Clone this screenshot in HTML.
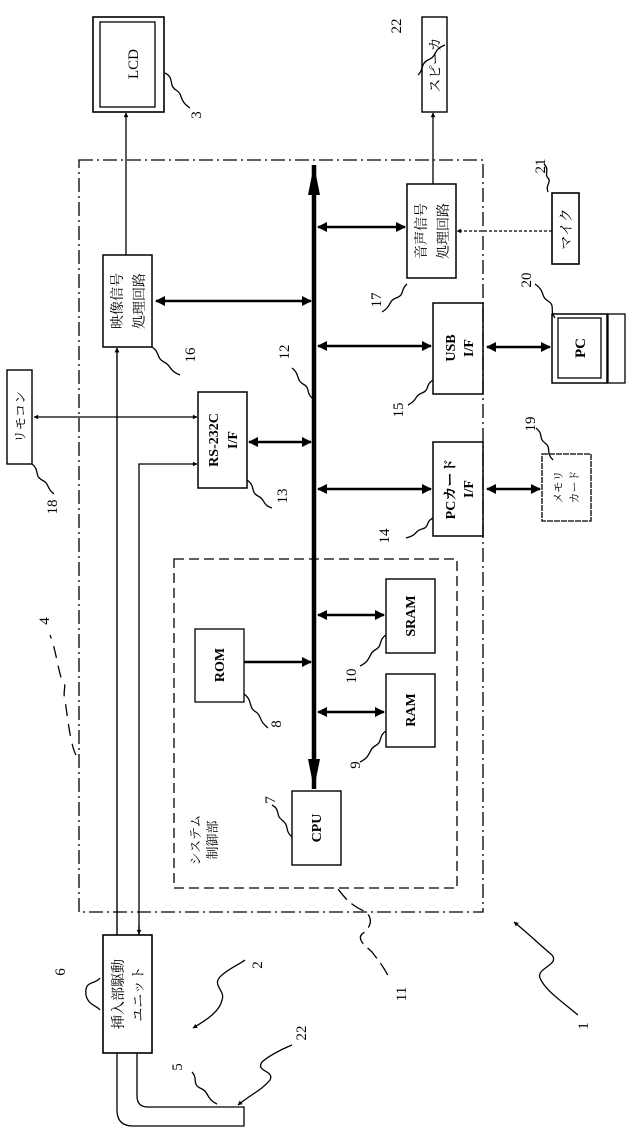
<!DOCTYPE html>
<html><head><meta charset="utf-8"><style>
html,body{margin:0;padding:0;background:#fff}
svg{display:block}
text{font-family:"Liberation Serif","Noto Serif CJK SC","Noto Sans CJK JP",serif;fill:#000}
</style></head><body>
<svg width="632" height="1128" viewBox="0 0 632 1128" xmlns="http://www.w3.org/2000/svg">
<defs>
<marker id="a" viewBox="0 0 10 10" refX="9" refY="5" markerWidth="5" markerHeight="4" orient="auto-start-reverse"><path d="M0,0L10,5L0,10z" fill="#000"/></marker>
<marker id="b" viewBox="0 0 10 10" refX="9" refY="5" markerWidth="4" markerHeight="3.5" orient="auto-start-reverse"><path d="M0,0L10,5L0,10z" fill="#000"/></marker>
<marker id="c" viewBox="0 0 30 12" refX="30" refY="6" markerUnits="userSpaceOnUse" markerWidth="30" markerHeight="12" orient="auto-start-reverse"><path d="M0,0L30,6L0,12z" fill="#000"/></marker>
</defs>
<g fill="none" stroke="#000" stroke-width="1.3">
<rect x="79" y="160" width="404" height="752" stroke-dasharray="14,4,2,4"/>
<rect x="174" y="559" width="283" height="329" stroke-dasharray="10,5"/>
<rect x="93" y="17" width="71" height="95" stroke-width="1.6"/>
<rect x="100" y="22" width="55" height="85"/>
<rect x="422" y="17" width="25" height="95" stroke-width="1.4"/>
<rect x="103" y="255" width="49" height="92" stroke-width="1.5"/>
<rect x="407" y="184" width="49" height="94" stroke-width="1.5"/>
<rect x="552" y="193" width="27" height="71" stroke-width="1.6"/>
<rect x="433" y="303" width="50" height="91" stroke-width="1.5"/>
<rect x="552" y="314" width="55" height="69" stroke-width="1.5"/>
<rect x="558" y="318" width="43" height="60"/>
<rect x="608" y="314" width="17" height="69"/>
<rect x="198" y="392" width="49" height="96" stroke-width="1.5"/>
<rect x="7" y="370" width="25" height="94" stroke-width="1.4"/>
<rect x="433" y="442" width="50" height="94" stroke-width="1.5"/>
<rect x="542" y="454" width="49" height="67" stroke-dasharray="6,1"/>
<rect x="195" y="629" width="49" height="73"/>
<rect x="386" y="579" width="49" height="74" stroke-width="1.4"/>
<rect x="386" y="674" width="49" height="73" stroke-width="1.4"/>
<rect x="292" y="791" width="49" height="74" stroke-width="1.4"/>
<rect x="103" y="935" width="49" height="118" stroke-width="1.6"/>
<line x1="314" y1="165" x2="314" y2="789" stroke-width="4.5" marker-start="url(#c)" marker-end="url(#c)"/>
<line x1="126" y1="255" x2="126" y2="113" marker-end="url(#b)"/>
<line x1="433" y1="184" x2="433" y2="113" marker-end="url(#b)"/>
<line x1="552" y1="231" x2="457" y2="231" stroke-dasharray="3,2" marker-end="url(#b)"/>
<line x1="34" y1="417" x2="197" y2="417" marker-start="url(#b)" marker-end="url(#b)"/>
<polyline points="139,935 139,464 197,464" marker-end="url(#b)"/>
<line x1="139" y1="925" x2="139" y2="934" marker-end="url(#b)"/>
<line x1="117" y1="935" x2="117" y2="348" stroke-width="1.4" marker-end="url(#b)"/>
<g stroke-width="2.5">
<line x1="156" y1="301" x2="311" y2="301" marker-start="url(#a)" marker-end="url(#a)"/>
<line x1="318" y1="227" x2="405" y2="227" marker-start="url(#a)" marker-end="url(#a)"/>
<line x1="318" y1="346" x2="431" y2="346" marker-start="url(#a)" marker-end="url(#a)"/>
<line x1="487" y1="347" x2="550" y2="347" marker-start="url(#a)" marker-end="url(#a)"/>
<line x1="249" y1="442" x2="311" y2="442" marker-start="url(#a)" marker-end="url(#a)"/>
<line x1="318" y1="489" x2="431" y2="489" marker-start="url(#a)" marker-end="url(#a)"/>
<line x1="487" y1="489" x2="540" y2="489" marker-start="url(#a)" marker-end="url(#a)"/>
<line x1="318" y1="615" x2="384" y2="615" marker-start="url(#a)" marker-end="url(#a)"/>
<line x1="318" y1="712" x2="384" y2="712" marker-start="url(#a)" marker-end="url(#a)"/>
<line x1="244" y1="662" x2="311" y2="662" marker-end="url(#a)"/>
</g>
<path d="M117,1053 V1110 Q117,1126 133,1126 H244 V1107 H148 Q137,1107 137,1096 V1053"/>
<path d="M165,73 C175,78 168,85 176,90 C184,95 178,100 190,108"/>
<path d="M445,45 C432,50 438,56 428,60 C420,64 424,70 418,75" />
<path d="M548,192 C545,185 552,182 548,178 C544,174 550,170 544,164"/>
<path d="M407,284 C400,290 405,295 396,298 C388,301 392,306 382,312"/>
<path d="M152,347 C160,352 156,358 164,362 C172,366 168,370 180,375"/>
<path d="M555,318 C549,310 556,306 548,301 C540,296 546,292 535,284"/>
<path d="M433,380 C425,385 430,390 422,393 C414,396 418,400 408,405"/>
<path d="M313,399 C305,392 311,388 303,384 C296,380 300,374 292,368"/>
<path d="M247,480 C256,486 250,492 258,496 C266,500 262,505 272,508"/>
<path d="M32,464 C40,470 34,476 42,480 C50,484 46,488 54,494"/>
<path d="M433,518 C425,522 430,527 422,529 C414,531 418,535 406,538"/>
<path d="M553,460 C545,452 552,448 545,443 C538,438 544,434 536,428"/>
<path d="M244,694 C253,700 248,708 256,712 C262,716 258,720 268,728"/>
<path d="M386,635 C378,640 383,646 375,650 C368,654 372,660 360,666"/>
<path d="M386,731 C378,736 383,742 375,746 C368,750 372,756 360,762"/>
<path d="M292,837 C284,830 290,826 282,820 C275,815 281,810 272,805"/>
<path d="M76,755 C70,745 66,705 65,700 C62,690 68,686 62,680 C58,670 56,650 50,635" stroke-dasharray="12,8"/>
<path d="M338,889 C345,898 350,905 366,912 C374,920 370,928 362,934 C356,940 368,948 372,952 C378,960 385,968 390,980" stroke-dasharray="14,6"/>
<path d="M100,978 C95,985 84,980 86,995 C88,1005 96,1005 100,1010"/>
<path d="M193,1028 C210,1018 220,1010 222,1000 C226,990 210,985 222,975 C230,968 240,964 245,960" marker-start="url(#b)"/>
<path d="M217,1104 C205,1098 210,1092 200,1088 C192,1084 198,1078 192,1072"/>
<path d="M238,1105 C250,1095 262,1090 270,1080 C275,1070 255,1072 262,1062 C270,1055 280,1050 292,1045" marker-start="url(#b)"/>
<path d="M514,922 C530,935 540,945 552,955 C560,965 536,968 540,978 C545,990 560,1000 578,1015" marker-start="url(#b)"/>
</g>
<g font-size="15" text-anchor="middle">
<text transform="translate(133,64) rotate(-90)" dy="5">LCD</text>
<text transform="translate(435,65) rotate(-90)" dy="5" font-size="14" font-family="Noto Sans CJK JP">スピーカ</text>
<text transform="translate(117,301) rotate(-90)" dy="5" font-size="14" font-family="Noto Sans CJK JP">映像信号</text>
<text transform="translate(139,301) rotate(-90)" dy="5" font-size="14" font-family="Noto Sans CJK JP">処理回路</text>
<text transform="translate(421,231) rotate(-90)" dy="5" font-size="14" font-family="Noto Sans CJK JP">音声信号</text>
<text transform="translate(443,231) rotate(-90)" dy="5" font-size="14" font-family="Noto Sans CJK JP">処理回路</text>
<text transform="translate(566,229) rotate(-90)" dy="5" font-size="14" font-family="Noto Sans CJK JP">マイク</text>
<text transform="translate(450,348) rotate(-90)" dy="5" font-weight="bold" font-size="14">USB</text>
<text transform="translate(468,348) rotate(-90)" dy="5" font-weight="bold" font-size="14">I/F</text>
<text transform="translate(580,348) rotate(-90)" dy="5" font-weight="bold">PC</text>
<text transform="translate(213,440) rotate(-90)" dy="5" font-weight="bold" font-size="14">RS-232C</text>
<text transform="translate(232,440) rotate(-90)" dy="5" font-weight="bold" font-size="14">I/F</text>
<text transform="translate(20,417) rotate(-90)" dy="5" font-size="13" font-family="Noto Sans CJK JP">リモコン</text>
<text transform="translate(450,489) rotate(-90)" dy="5" font-weight="bold" font-size="14">PCカード</text>
<text transform="translate(468,489) rotate(-90)" dy="5" font-weight="bold" font-size="14">I/F</text>
<text transform="translate(558,487) rotate(-90)" dy="4" font-size="11" font-family="Noto Sans CJK JP">メモリ</text>
<text transform="translate(574,487) rotate(-90)" dy="4" font-size="11" font-family="Noto Sans CJK JP">カード</text>
<text transform="translate(219,665) rotate(-90)" dy="5" font-weight="bold" font-size="14">ROM</text>
<text transform="translate(410,616) rotate(-90)" dy="5" font-weight="bold" font-size="14">SRAM</text>
<text transform="translate(410,710) rotate(-90)" dy="5" font-weight="bold" font-size="14">RAM</text>
<text transform="translate(316,828) rotate(-90)" dy="5" font-weight="bold" font-size="14">CPU</text>
<text transform="translate(195,840) rotate(-90)" dy="5" font-size="13" font-family="Noto Sans CJK JP">システム</text>
<text transform="translate(212,840) rotate(-90)" dy="5" font-size="13" font-family="Noto Sans CJK JP">制御部</text>
<text transform="translate(118,994) rotate(-90)" dy="5" font-size="14" font-family="Noto Sans CJK JP">挿入部駆動</text>
<text transform="translate(138,994) rotate(-90)" dy="5" font-size="14" font-family="Noto Sans CJK JP">ユニット</text>
</g>
<g font-size="15" text-anchor="middle">
<text transform="translate(196,115) rotate(-90)" dy="5">3</text>
<text transform="translate(396,26) rotate(-90)" dy="5">22</text>
<text transform="translate(540,166) rotate(-90)" dy="5">21</text>
<text transform="translate(376,300) rotate(-90)" dy="5">17</text>
<text transform="translate(190,355) rotate(-90)" dy="5">16</text>
<text transform="translate(526,280) rotate(-90)" dy="5">20</text>
<text transform="translate(398,410) rotate(-90)" dy="5">15</text>
<text transform="translate(284,352) rotate(-90)" dy="5">12</text>
<text transform="translate(282,496) rotate(-90)" dy="5">13</text>
<text transform="translate(52,507) rotate(-90)" dy="5">18</text>
<text transform="translate(384,536) rotate(-90)" dy="5">14</text>
<text transform="translate(530,424) rotate(-90)" dy="5">19</text>
<text transform="translate(44,621) rotate(-90)" dy="5">4</text>
<text transform="translate(351,676) rotate(-90)" dy="5">10</text>
<text transform="translate(276,724) rotate(-90)" dy="5">8</text>
<text transform="translate(355,765) rotate(-90)" dy="5">9</text>
<text transform="translate(270,800) rotate(-90)" dy="5">7</text>
<text transform="translate(401,994) rotate(-90)" dy="5">11</text>
<text transform="translate(583,1026) rotate(-90)" dy="5">1</text>
<text transform="translate(257,965) rotate(-90)" dy="5">2</text>
<text transform="translate(60,972) rotate(-90)" dy="5">6</text>
<text transform="translate(301,1033) rotate(-90)" dy="5">22</text>
<text transform="translate(177,1067) rotate(-90)" dy="5">5</text>
</g>
</svg>
</body></html>
